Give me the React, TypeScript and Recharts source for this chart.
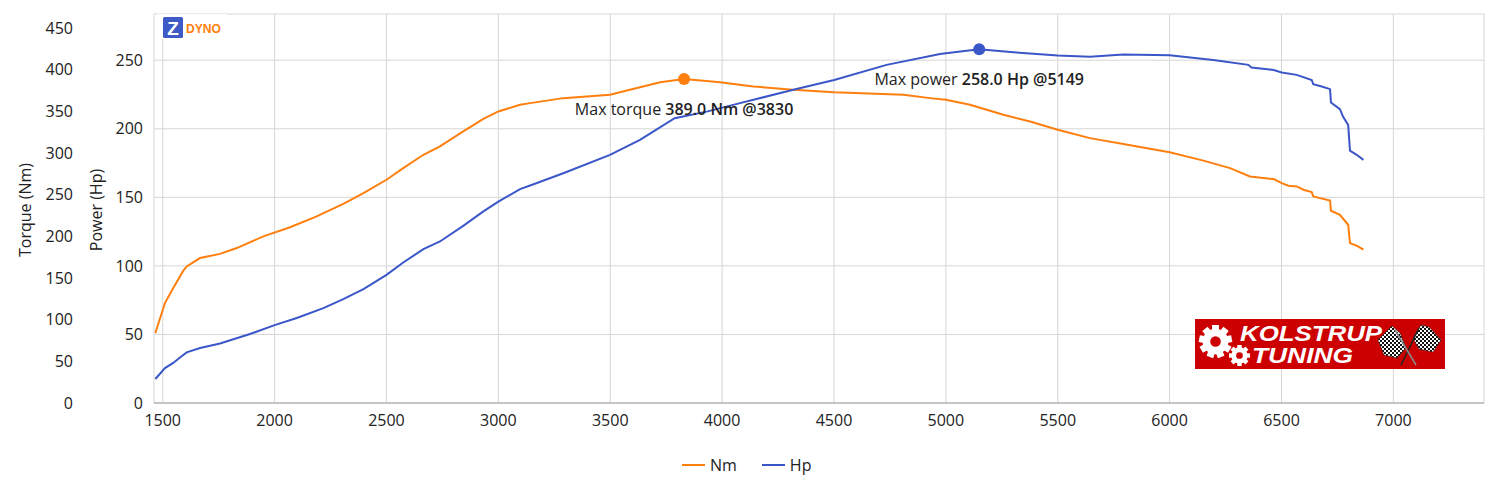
import React from 'react';
import { LineChart, Line, XAxis, YAxis, CartesianGrid, Legend, ReferenceDot } from 'recharts';

const torqueRpm = [1467, 1510, 1547, 1577, 1590, 1607, 1667, 1756, 1831, 1950, 2069, 2188, 2307, 2397, 2500, 2575, 2665, 2739, 2843, 2933, 3000, 3097, 3142, 3290, 3499, 3588, 3723, 3830, 3991, 4140, 4318, 4501, 4810, 4929, 5000, 5108, 5257, 5376, 5500, 5644, 5793, 6000, 6151, 6270, 6359, 6465, 6501, 6531, 6568, 6598, 6635, 6642, 6717, 6721, 6761, 6798, 6806, 6836, 6866];
const torqueNm = [84, 120, 138, 152, 158, 164, 174, 179, 186, 200, 211, 224, 239, 252, 268, 282, 298, 308, 326, 341, 350, 358, 360, 366, 370, 376, 385, 389, 385, 380, 376, 373, 370, 366, 364, 358, 346, 338, 328, 318, 311, 301, 291, 282, 272, 268.8, 264, 260.8, 260, 256, 253.2, 248, 243, 230.8, 226, 214, 192, 188.8, 184];

const powerRpm = [1467, 1510, 1547, 1577, 1607, 1667, 1756, 1890, 2000, 2099, 2218, 2307, 2397, 2500, 2575, 2665, 2739, 2843, 2933, 3000, 3097, 3142, 3290, 3499, 3633, 3788, 3931, 4080, 4318, 4501, 4735, 4974, 5000, 5149, 5302, 5500, 5644, 5793, 6000, 6195, 6352, 6366, 6465, 6501, 6568, 6635, 6642, 6680, 6717, 6721, 6761, 6776, 6798, 6806, 6836, 6866];
const powerHp = [17.5, 25.5, 29.2, 33.2, 36.9, 40.1, 43.4, 50.3, 56.8, 62, 69.2, 75.8, 83.1, 93.5, 102.5, 112.2, 117.8, 129.2, 139.7, 146.9, 156, 158.6, 167.6, 181, 191.9, 207.7, 212.5, 218.7, 228.4, 235.6, 246.6, 254.6, 255.1, 258, 255.8, 253.4, 252.6, 254.1, 253.6, 250.2, 246.6, 244.6, 242.9, 241, 239.3, 235.6, 232.5, 230.8, 228.9, 219.1, 214.3, 208.5, 202.8, 184.1, 181, 177.3];

const rpmTicks = [1500, 2000, 2500, 3000, 3500, 4000, 4500, 5000, 5500, 6000, 6500, 7000];
const torqueTicks = [0, 50, 100, 150, 200, 250, 300, 350, 400, 450];
const powerTicks = [0, 50, 100, 150, 200, 250];

const seriesNames = ['Nm', 'Hp'];
const seriesColors = ['#ff7f0e', '#3b56c8'];

const peakTorque = { rpm: 3830, value: 389.0, prefix: 'Max torque ', bold: '389.0 Nm @3830' };
const peakPower = { rpm: 5149, value: 258.0, prefix: 'Max power ', bold: '258.0 Hp @5149' };

const torqueData = torqueRpm.map((rpm, i) => ({ rpm, nm: torqueNm[i] }));
const powerData = powerRpm.map((rpm, i) => ({ rpm, hp: powerHp[i] }));

const FONT = "'Open Sans', 'Noto Sans', sans-serif";
const TEXT = '#222222';

const makePeakShape = (prefix: string, bold: string, color: string) => (props: any) => {
  const { cx, cy } = props;
  return (
    <g>
      <circle cx={cx} cy={cy} r={6} fill={color} />
      <text x={cx} y={cy + 36} textAnchor="middle" fontSize={16} fill={TEXT} fontFamily={FONT}>
        <tspan>{prefix}</tspan>
        <tspan fontWeight={600}>{bold}</tspan>
      </text>
    </g>
  );
};

const renderLegend = () => (
  <div style={{ display: 'flex', alignItems: 'center', fontFamily: FONT, fontSize: 16, color: TEXT, lineHeight: '22px' }}>
    {seriesNames.map((name, i) => (
      <span key={name} style={{ display: 'flex', alignItems: 'center', marginRight: 25 }}>
        <svg width={23} height={4} style={{ display: 'block' }}>
          <line x1={0} y1={2} x2={23} y2={2} stroke={seriesColors[i]} strokeWidth={2} />
        </svg>
        <span style={{ marginLeft: 5 }}>{name}</span>
      </span>
    ))}
  </div>
);

const Gear = ({ cx, cy, r, teeth }: { cx: number; cy: number; r: number; teeth: number }) => {
  const body = r * 0.78;
  const tw = r * 0.42;
  const th = r * 0.4;
  const items = [];
  for (let i = 0; i < teeth; i++) {
    items.push(
      <rect key={i} x={cx - tw / 2} y={cy - r} width={tw} height={th} fill="#ffffff" transform={`rotate(${(360 / teeth) * i} ${cx} ${cy})`} />
    );
  }
  return (
    <g>
      {items}
      <circle cx={cx} cy={cy} r={body} fill="#ffffff" />
      <circle cx={cx} cy={cy} r={r * 0.32} fill="#cc0000" />
    </g>
  );
};

const Overlay = () => (
  <svg width={1500} height={500} style={{ position: 'absolute', left: 0, top: 0, pointerEvents: 'none' }}>
    <defs>
      <pattern id="chk" width={4} height={4} patternUnits="userSpaceOnUse">
        <rect width={4} height={4} fill="#ffffff" />
        <rect width={2} height={2} fill="#111111" />
        <rect x={2} y={2} width={2} height={2} fill="#111111" />
      </pattern>
    </defs>
    <text x={25} y={210} transform="rotate(-90 25 210)" textAnchor="middle" dominantBaseline="central" fontSize={16} fill={TEXT} fontFamily={FONT}>Torque (Nm)</text>
    <text x={96} y={210} transform="rotate(-90 96 210)" textAnchor="middle" dominantBaseline="central" fontSize={16} fill={TEXT} fontFamily={FONT}>Power (Hp)</text>
    <rect x={157} y={14} width={70} height={25} fill="#ffffff" />
    <rect x={163} y={17} width={20} height={21} rx={1.5} fill="#3d5ac6" />
    <text x={173} y={34.5} textAnchor="middle" fontSize={19} fontWeight={700} fill="#ffffff" fontFamily="'Liberation Sans', Arial, sans-serif">Z</text>
    <text x={186} y={32.5} fontSize={13} fontWeight={700} fill="#ff7f0e" fontFamily="'Liberation Sans', Arial, sans-serif" textLength={35} lengthAdjust="spacingAndGlyphs">DYNO</text>
    <rect x={1195} y={319} width={250} height={50} fill="#cc0000" />
    <Gear cx={1215.5} cy={341.5} r={16.5} teeth={9} />
    <Gear cx={1239.5} cy={355.5} r={10.5} teeth={8} />
    <text x={1240} y={341} fontSize={22} fontWeight={700} fontStyle="italic" fill="#ffffff" fontFamily="'Liberation Sans', Arial, sans-serif" textLength={142} lengthAdjust="spacingAndGlyphs">KOLSTRUP</text>
    <text x={1252} y={362.5} fontSize={22} fontWeight={700} fontStyle="italic" fill="#ffffff" fontFamily="'Liberation Sans', Arial, sans-serif" textLength={101} lengthAdjust="spacingAndGlyphs">TUNING</text>
    <polygon points="1378,340 1392,326 1400,333 1406,348 1397,358 1384,355" fill="url(#chk)" stroke="#333" strokeWidth={0.6} />
    <polygon points="1413,338 1421,325 1429,327 1441,340 1433,352 1419,349" fill="url(#chk)" stroke="#333" strokeWidth={0.6} />
    <line x1={1401} y1={365} x2={1419} y2={328} stroke="#222" strokeWidth={1.5} />
    <line x1={1416} y1={365} x2={1395} y2={330} stroke="#888" strokeWidth={1.5} />
  </svg>
);

export default function App() {
  return (
    <div style={{ position: 'absolute', left: 0, top: 0, width: 1500, height: 500, background: '#ffffff' }}>
      <LineChart width={1500} height={500} margin={{ top: 14, right: 16, left: 0, bottom: 67 }} style={{ fontFamily: FONT }}>
        <CartesianGrid yAxisId="power" stroke="#d6d6d6" />
        <XAxis
          dataKey="rpm"
          type="number"
          domain={[1461, 7405]}
          ticks={rpmTicks}
          height={30}
          tickSize={0}
          tickMargin={12}
          axisLine={{ stroke: '#9e9e9e' }}
          tickLine={false}
          tick={{ fontSize: 16, fill: TEXT, fontFamily: FONT }}
          allowDuplicatedCategory={false}
        />
        <YAxis
          yAxisId="power"
          orientation="left"
          width={70}
          domain={[0, 283.7]}
          ticks={powerTicks}
          tickSize={0}
          tickMargin={11}
          axisLine={false}
          tickLine={false}
          tick={{ fontSize: 16, fill: TEXT, fontFamily: FONT }}
        />
        <YAxis
          yAxisId="torque"
          orientation="left"
          width={84}
          domain={[0, 467]}
          ticks={torqueTicks}
          tickSize={0}
          tickMargin={11}
          axisLine={false}
          tickLine={false}
          tick={{ fontSize: 16, fill: TEXT, fontFamily: FONT }}
        />
        <Legend verticalAlign="middle" align="center" wrapperStyle={{ top: 454, left: 682, width: 200 }} content={renderLegend} />
        <Line data={torqueData} dataKey="nm" name={seriesNames[0]} yAxisId="torque" type="linear" stroke={seriesColors[0]} strokeWidth={2} dot={false} isAnimationActive={false} />
        <Line data={powerData} dataKey="hp" name={seriesNames[1]} yAxisId="power" type="linear" stroke={seriesColors[1]} strokeWidth={2} dot={false} isAnimationActive={false} />
        <ReferenceDot yAxisId="torque" x={peakTorque.rpm} y={peakTorque.value} r={6} shape={makePeakShape(peakTorque.prefix, peakTorque.bold, seriesColors[0])} />
        <ReferenceDot yAxisId="power" x={peakPower.rpm} y={peakPower.value} r={6} shape={makePeakShape(peakPower.prefix, peakPower.bold, seriesColors[1])} />
      </LineChart>
      <Overlay />
    </div>
  );
}
